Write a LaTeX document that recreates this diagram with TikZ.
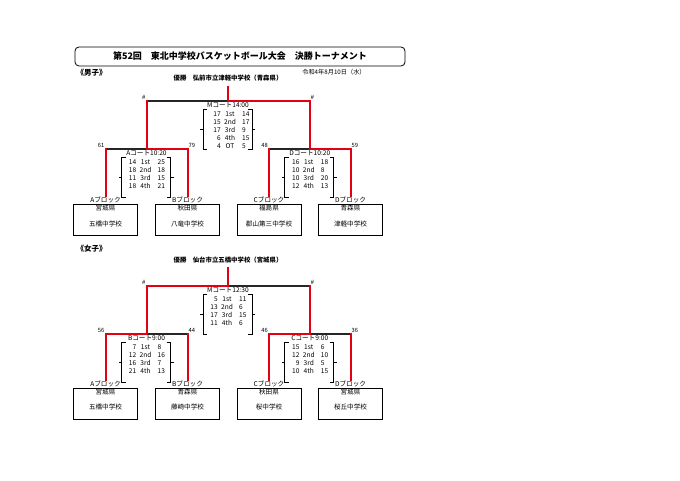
\documentclass[tikz,border=0pt]{standalone}
\usepackage{fontspec}
\setmainfont{Noto Sans CJK JP}
\usetikzlibrary{positioning,calc}
\definecolor{winred}{RGB}{226,0,20}
\tikzstyle{tour}=[
  x=1pt,y=-1pt,font=\fontsize{6.6}{8}\selectfont
]
\tikzstyle{titlebox}=[
  draw,rounded corners=4pt,line width=0.8pt,minimum width=330pt,minimum height=19pt,font=\fontsize{9}{10}\selectfont\bfseries
]
\tikzstyle{team}=[
  draw,line width=0.9pt,minimum width=64pt,minimum height=31pt,inner sep=0pt
]
\tikzstyle{block}=[
  anchor=south,inner sep=0.5pt
]
\tikzstyle{pref}=[
  anchor=north,inner sep=1pt
]
\tikzstyle{score}=[
  inner sep=0pt
]
\tikzstyle{endlbl}=[
  inner sep=1pt,font=\fontsize{5.8}{6}\selectfont
]
\tikzstyle{winedge}=[
  draw=winred,line width=2pt,line cap=rect
]
\tikzstyle{loseedge}=[
  draw=black!85,line width=1.8pt
]
\tikzstyle{brk}=[
  line width=0.6pt
]
% court label, score rows and side brackets under a junction
\newcommand{\courtbox}[5]{%
  \node[score] at ($(#1)+(0,4.5)$) {#2};
  \foreach \sa/\sq/\sb [count=\i] in {#3} {
    \node[score,anchor=east] at ($(#1)+(-10+#5,5+8*\i)$) {\sa};
    \node[score] at ($(#1)+(-1+#5,5+8*\i)$) {\sq};
    \node[score,anchor=west] at ($(#1)+(11+#5,5+8*\i)$) {\sb};
  }
  \draw[brk] ($(#1)+(-21,8.5)$) -- ++(-4,0) -- ++(0,#4) -- ++(4,0)
    ($(#1)+(-25,8.5+#4/2)$) -- ++(-3,0);
  \draw[brk] ($(#1)+(20,8.5)$) -- ++(4,0) -- ++(0,#4) -- ++(-4,0)
    ($(#1)+(24,8.5+#4/2)$) -- ++(3,0);
}

\begin{document}
\begin{tikzpicture}[tour]
  \useasboundingbox (0,0) rectangle (680,481);
  \node (title) at (240,56.5) [titlebox] {第52回　東北中学校バスケットボール大会　決勝トーナメント};
  \node (date) at (334,72) [font=\fontsize{6.2}{7}\selectfont] {令和4年8月10日（水）};

  % boys
  \node (bsec) at (73,73) [anchor=west,font=\fontsize{7.5}{8}\selectfont\bfseries] {《男子》};
  \node (bwin) at (228,78) [font=\fontsize{6.4}{7}\selectfont\bfseries] {優勝　弘前市立津軽中学校（青森県）};
  \coordinate (btop) at ($(bwin)+(0,9)$);
  \node (ba) at (105.5,220) [team] {};
  \node (bb) at (187.5,220) [team] {};
  \node (bc) at (269,220) [team] {};
  \node (bd) at (350.5,220) [team] {};
  \node (bablk) at (ba.north) [block] {Aブロック};
  \node (bbblk) at (bb.north) [block] {Bブロック};
  \node (bcblk) at (bc.north) [block] {Cブロック};
  \node (bdblk) at (bd.north) [block] {Dブロック};
  \node at (ba.north) [pref] {宮城県};
  \node at (bb.north) [pref] {秋田県};
  \node at (bc.north) [pref] {福島県};
  \node at (bd.north) [pref] {青森県};
  \node at ($(ba)+(0,3.5)$) {五橋中学校};
  \node at ($(bb)+(0,3.5)$) {八竜中学校};
  \node at ($(bc)+(0,3.5)$) {郡山第三中学校};
  \node at ($(bd)+(0,3.5)$) {津軽中学校};
  \coordinate (bab) at (146.5,149);
  \coordinate (bcd) at (309.75,149);
  \coordinate (bf) at (228,101);
  \draw[loseedge] (ba |- bab) -- (bab);
  \draw[loseedge] (bc |- bcd) -- (bcd);
  \draw[loseedge] (bab |- bf) -- (bf);
  \draw[winedge] (bablk) -- (ba |- bab);
  \draw[winedge] (bcblk) -- (bc |- bcd);
  \draw[winedge] (bbblk) -- (bb |- bab) -- (bab) -- (bab |- bf);
  \draw[winedge] (bdblk) -- (bd |- bcd) -- (bcd) -- (bcd |- bf) -- (bf) -- (btop);
  \node[endlbl,above left] at (ba |- bab) {61};
  \node[endlbl,above right] at (bb |- bab) {79};
  \node[endlbl,above left] at (bc |- bcd) {48};
  \node[endlbl,above right] at (bd |- bcd) {59};
  \node[endlbl,above left] at (bab |- bf) {\#};
  \node[endlbl,above right] at (bcd |- bf) {\#};
  \courtbox{bab}{Aコート10:20}{14/1st/25,18/2nd/18,11/3rd/15,18/4th/21}{40}{0}
  \courtbox{bcd}{Dコート10:20}{16/1st/18,10/2nd/8,10/3rd/20,12/4th/13}{40}{0}
  \courtbox{bf}{Mコート14:00}{17/1st/14,15/2nd/17,17/3rd/9,6/4th/15,4/OT/5}{40}{3}

  % girls
  \node (gsec) at (73,249) [anchor=west,font=\fontsize{7.5}{8}\selectfont\bfseries] {《女子》};
  \node (gwin) at (228,260) [font=\fontsize{6.4}{7}\selectfont\bfseries] {優勝　仙台市立五橋中学校（宮城県）};
  \coordinate (gtop) at ($(gwin)+(0,8)$);
  \node (ga) at (105.5,403.5) [team] {};
  \node (gb) at (187.5,403.5) [team] {};
  \node (gc) at (269,403.5) [team] {};
  \node (gd) at (350.5,403.5) [team] {};
  \node (gablk) at (ga.north) [block] {Aブロック};
  \node (gbblk) at (gb.north) [block] {Bブロック};
  \node (gcblk) at (gc.north) [block] {Cブロック};
  \node (gdblk) at (gd.north) [block] {Dブロック};
  \node at (ga.north) [pref] {宮城県};
  \node at (gb.north) [pref] {青森県};
  \node at (gc.north) [pref] {秋田県};
  \node at (gd.north) [pref] {宮城県};
  \node at ($(ga)+(0,3.5)$) {五橋中学校};
  \node at ($(gb)+(0,3.5)$) {藤崎中学校};
  \node at ($(gc)+(0,3.5)$) {桜中学校};
  \node at ($(gd)+(0,3.5)$) {桜丘中学校};
  \coordinate (gab) at (146.5,334);
  \coordinate (gcd) at (309.75,334);
  \coordinate (gf) at (228,286);
  \draw[loseedge] (gab) -- (gb |- gab);
  \draw[loseedge] (gcd) -- (gd |- gcd);
  \draw[loseedge] (gf) -- (gcd |- gf);
  \draw[winedge] (gbblk) -- (gb |- gab);
  \draw[winedge] (gdblk) -- (gd |- gcd);
  \draw[winedge] (gcd) -- (gcd |- gf);
  \draw[winedge] (gcblk) -- (gc |- gcd) -- (gcd);
  \draw[winedge] (gablk) -- (ga |- gab) -- (gab) -- (gab |- gf) -- (gf) -- (gtop);
  \node[endlbl,above left] at (ga |- gab) {56};
  \node[endlbl,above right] at (gb |- gab) {44};
  \node[endlbl,above left] at (gc |- gcd) {46};
  \node[endlbl,above right] at (gd |- gcd) {36};
  \node[endlbl,above left] at (gab |- gf) {\#};
  \node[endlbl,above right] at (gcd |- gf) {\#};
  \courtbox{gab}{Bコート9:00}{7/1st/8,12/2nd/16,16/3rd/7,21/4th/13}{40}{0}
  \courtbox{gcd}{Cコート9:00}{15/1st/6,12/2nd/10,9/3rd/5,10/4th/15}{40}{0}
  \courtbox{gf}{Mコート12:30}{5/1st/11,13/2nd/6,17/3rd/15,11/4th/6}{40}{0}
\end{tikzpicture}
\end{document}
